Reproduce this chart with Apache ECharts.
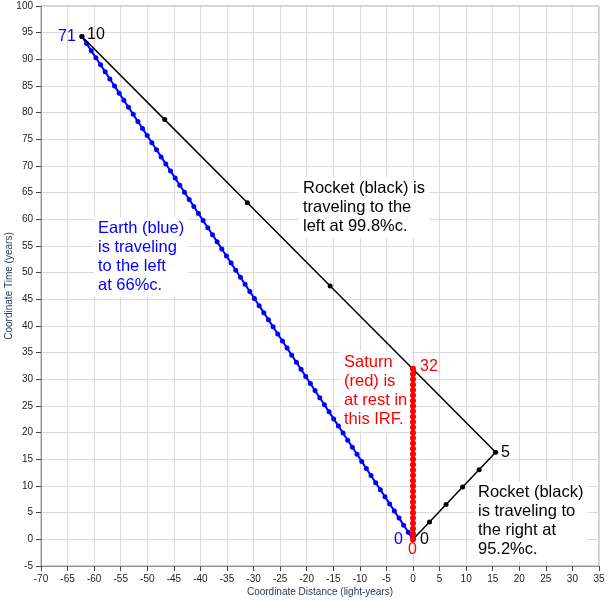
<!DOCTYPE html>
<html>
<head>
<meta charset="utf-8">
<script src="https://cdn.jsdelivr.net/npm/echarts@6/dist/echarts.min.js"></script>
<style>html,body{margin:0;padding:0;background:#fff;}#c{width:608px;height:600px;}</style>
</head>
<body>
<div id="c"></div>
<script>
// Earth worldline: one dot per year of Earth proper time (0..71)
var earthX = [0,-0.88,-1.76,-2.63,-3.51,-4.39,-5.27,-6.14,-7.02,-7.90,-8.78,-9.65,-10.53,-11.41,-12.29,-13.16,-14.04,-14.92,-15.80,-16.67,-17.55,-18.43,-19.31,-20.18,-21.06,-21.94,-22.82,-23.69,-24.57,-25.45,-26.33,-27.20,-28.08,-28.96,-29.84,-30.71,-31.59,-32.47,-33.35,-34.22,-35.10,-35.98,-36.86,-37.73,-38.61,-39.49,-40.37,-41.24,-42.12,-43.00,-43.88,-44.75,-45.63,-46.51,-47.39,-48.26,-49.14,-50.02,-50.90,-51.77,-52.65,-53.53,-54.41,-55.28,-56.16,-57.04,-57.92,-58.79,-59.67,-60.55,-61.43,-62.30];
var earthT = [0,1.33,2.66,3.98,5.31,6.64,7.97,9.30,10.62,11.95,13.28,14.61,15.94,17.26,18.59,19.92,21.25,22.58,23.90,25.23,26.56,27.89,29.22,30.54,31.87,33.20,34.53,35.86,37.18,38.51,39.84,41.17,42.50,43.82,45.15,46.48,47.81,49.14,50.46,51.79,53.12,54.45,55.78,57.10,58.43,59.76,61.09,62.42,63.74,65.07,66.40,67.73,69.06,70.38,71.71,73.04,74.37,75.70,77.02,78.35,79.68,81.01,82.34,83.66,84.99,86.32,87.65,88.98,90.30,91.63,92.96,94.29];
// Saturn worldline: one dot per year (0..32)
var saturnX = [0,0,0,0,0,0,0,0,0,0,0,0,0,0,0,0,0,0,0,0,0,0,0,0,0,0,0,0,0,0,0,0,0];
var saturnT = [0,1,2,3,4,5,6,7,8,9,10,11,12,13,14,15,16,17,18,19,20,21,22,23,24,25,26,27,28,29,30,31,32];
// Rocket worldline: one dot per year of rocket proper time (0..10)
var rocketX = [0,3.11,6.22,9.33,12.44,15.55,-0.02,-15.59,-31.16,-46.73,-62.30];
var rocketT = [0,3.27,6.53,9.80,13.06,16.33,31.92,47.51,63.10,78.70,94.29];

var xTicks = {min:-70, max:35, step:5};
var yTicks = {min:-5, max:100, step:5};

function pairs(xs, ts){ return xs.map(function(x,i){ return [x, ts[i]]; }); }

var chart = echarts.init(document.getElementById('c'), null, {renderer:'canvas'});
var FONT = '"Liberation Sans", Arial, sans-serif';
var axisLabel = {color:'#222', fontSize:10, fontFamily:FONT};
function blockText(x,y,txt,color){
  return {type:'text', left:x, top:y, z:1, zlevel:0,
    style:{text:txt, fill:color, font:'16.5px '+FONT, lineHeight:19, backgroundColor:'#fff', padding:[2,4,2,4]}};
}
function numText(x,y,txt,color){
  return {type:'text', x:x, y:y, z:100,
    style:{text:txt, fill:color, font:'16px '+FONT, verticalAlign:'middle', align:'left'}};
}
chart.setOption({
  animation:false,
  backgroundColor:'#fff',
  grid:{left:41, right:9, top:6, bottom:34, outerBoundsMode:'none', containLabel:false,
    show:true, borderColor:'#a0a0a0', borderWidth:1, backgroundColor:'transparent'},
  xAxis:{type:'value', min:xTicks.min, max:xTicks.max, interval:xTicks.step,
    name:'Coordinate Distance (light-years)', nameLocation:'middle', nameGap:21, nameMoveOverlap:false,
    nameTextStyle:{color:'#2b3a55', fontSize:10, fontFamily:FONT},
    axisLine:{show:true, onZero:false, lineStyle:{color:'#909090'}},
    axisTick:{show:true, length:5, lineStyle:{color:'#444'}},
    axisLabel:axisLabel,
    splitLine:{show:true, lineStyle:{color:'#dadada', width:1}}},
  yAxis:{type:'value', min:yTicks.min, max:yTicks.max, interval:yTicks.step,
    name:'Coordinate Time (years)', nameLocation:'middle', nameGap:27, nameMoveOverlap:false,
    nameTextStyle:{color:'#2b3a55', fontSize:10, fontFamily:FONT},
    axisLine:{show:true, onZero:false, lineStyle:{color:'#909090'}},
    axisTick:{show:true, length:5, lineStyle:{color:'#444'}},
    axisLabel:axisLabel,
    splitLine:{show:true, lineStyle:{color:'#dadada', width:1}}},
  series:[
    {name:'Earth', type:'line', data:pairs(earthX, earthT), color:'#0000ff',
      lineStyle:{color:'#0000ff', width:2}, symbol:'circle', symbolSize:5,
      itemStyle:{color:'#0000ff'}, z:3},
    {name:'Rocket', type:'line', data:pairs(rocketX, rocketT), color:'#000',
      lineStyle:{color:'#000', width:1.5}, symbol:'circle', symbolSize:5,
      itemStyle:{color:'#000'}, z:4},
    {name:'Saturn', type:'line', data:pairs(saturnX, saturnT), color:'#ff0000',
      lineStyle:{color:'#ff0000', width:3}, symbol:'circle', symbolSize:6,
      itemStyle:{color:'#ff0000'}, z:5}
  ],
  graphic:[
    blockText(299,177,'Rocket (black) is\ntraveling to the\nleft at 99.8%c.','#000'),
    blockText(94,217,'Earth (blue)\nis traveling\nto the left\nat 66%c.','#0000ff'),
    blockText(340,351,'Saturn\n(red) is\nat rest in\nthis IRF.','#ff0000'),
    blockText(474,481,'Rocket (black)\nis traveling to\nthe right at\n95.2%c.','#000'),
    numText(58,37,'71','#0000ff'),
    numText(87,35,'10','#000'),
    numText(420,367,'32','#ff0000'),
    numText(501,453,'5','#000'),
    numText(394,540,'0','#0000ff'),
    numText(420,540,'0','#000'),
    numText(408,550,'0','#ff0000')
  ]
});
</script>
</body>
</html>
